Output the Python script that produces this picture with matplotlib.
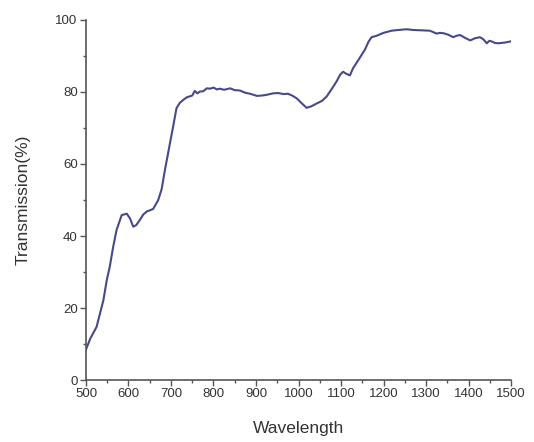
import matplotlib
matplotlib.use("Agg")
import matplotlib.pyplot as plt
from matplotlib.ticker import MultipleLocator

plt.rcParams['font.family'] = ['Liberation Sans', 'DejaVu Sans']

wavelength = [500, 510, 525, 541, 549, 556, 564, 572, 584, 596, 604, 611, 618, 627, 635,
              643, 658, 670, 678, 686, 694, 705, 713, 721, 729, 737, 745, 750, 756, 762,
              768, 776, 784, 792, 800, 808, 815, 825, 839, 850, 862, 874, 886, 902, 914,
              925, 940, 952, 965, 975, 985, 996, 1008, 1019, 1030, 1043, 1055, 1066, 1078,
              1090, 1098, 1105, 1113, 1121, 1128, 1141, 1156, 1165, 1172, 1184, 1200, 1219,
              1235, 1254, 1270, 1290, 1309, 1325, 1333, 1341, 1352, 1364, 1372, 1380, 1392,
              1404, 1415, 1427, 1435, 1443, 1449, 1455, 1462, 1470, 1485, 1498]
transmission = [8.5, 11.5, 14.8, 22.2, 27.8, 31.5, 37.0, 41.7, 45.8, 46.2, 44.8, 42.6, 43.0,
                44.5, 46.0, 46.8, 47.5, 50.0, 53.0, 58.5, 63.5, 70.4, 75.5, 77.0, 77.8, 78.5,
                78.8, 79.0, 80.3, 79.6, 80.1, 80.2, 81.0, 80.9, 81.2, 80.7, 80.9, 80.6, 81.0,
                80.5, 80.4, 79.8, 79.5, 78.9, 79.0, 79.2, 79.6, 79.7, 79.4, 79.5, 79.0, 78.2,
                76.8, 75.6, 76.0, 76.8, 77.5, 78.7, 80.8, 83.0, 84.8, 85.6, 85.0, 84.6, 86.5,
                88.9, 91.7, 94.0, 95.2, 95.6, 96.4, 97.0, 97.2, 97.4, 97.2, 97.1, 97.0, 96.2,
                96.4, 96.3, 95.9, 95.2, 95.6, 95.8, 95.0, 94.3, 94.9, 95.2, 94.6, 93.5, 94.2,
                94.0, 93.6, 93.5, 93.7, 94.0]

x_ticks = [500, 600, 700, 800, 900, 1000, 1100, 1200, 1300, 1400, 1500]
y_ticks = [0, 20, 40, 60, 80, 100]

fig = plt.figure(figsize=(5.34, 4.42), dpi=100)
ax = fig.add_axes([0.161, 0.140, 0.796, 0.815])
ax.plot(wavelength, transmission, color='#474a8a', linewidth=1.5)

ax.set_xlim(500, 1500)
ax.set_ylim(0, 100)
ax.set_xticks(x_ticks)
ax.set_yticks(y_ticks)
ax.xaxis.set_minor_locator(MultipleLocator(50))
ax.yaxis.set_minor_locator(MultipleLocator(10))

for s in ['top', 'right']:
    ax.spines[s].set_visible(False)
for s in ['left', 'bottom']:
    ax.spines[s].set_color('#555555')
    ax.spines[s].set_linewidth(1.2)

ax.tick_params(which='major', direction='out', length=4, width=1.0, color='#555555',
               labelsize=9.5, labelcolor='#333333', pad=2)
ax.tick_params(which='minor', direction='out', length=2, width=1.0, color='#555555')

ax.set_xlabel('Wavelength', fontsize=12.5, color='#333333', labelpad=15)
ax.set_ylabel('Transmission(%)', fontsize=12.5, color='#333333', labelpad=18)

fig.savefig('out.png', dpi=100, facecolor='white')
